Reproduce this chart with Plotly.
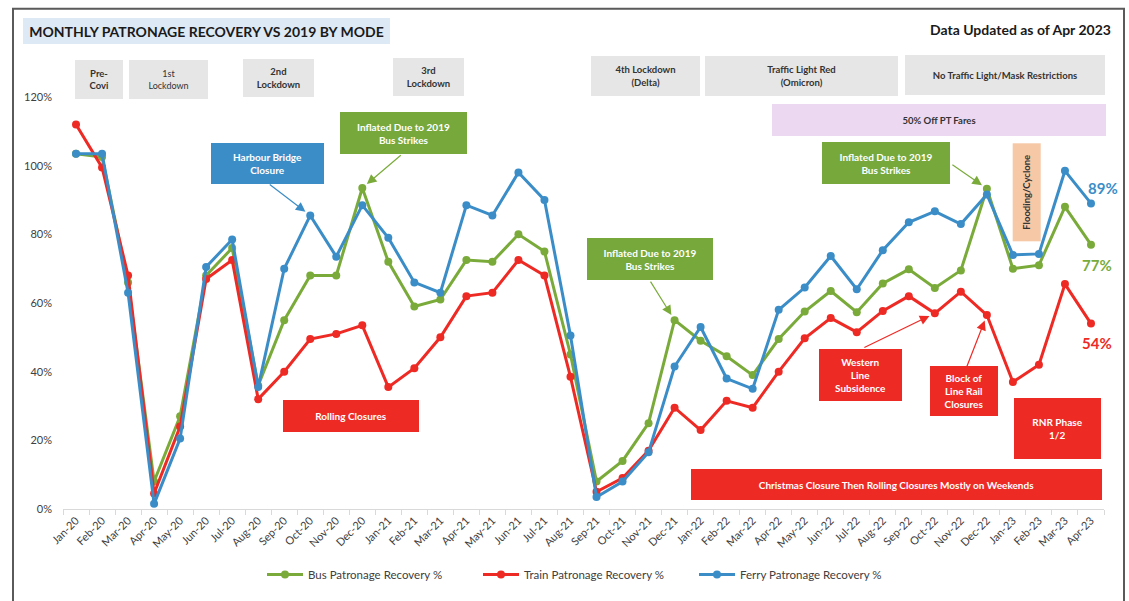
import plotly.graph_objects as go

# Monthly labels, Jan-20 .. Apr-23
months = [
    "Jan-20", "Feb-20", "Mar-20", "Apr-20", "May-20", "Jun-20", "Jul-20", "Aug-20",
    "Sep-20", "Oct-20", "Nov-20", "Dec-20", "Jan-21", "Feb-21", "Mar-21", "Apr-21",
    "May-21", "Jun-21", "Jul-21", "Aug-21", "Sep-21", "Oct-21", "Nov-21", "Dec-21",
    "Jan-22", "Feb-22", "Mar-22", "Apr-22", "May-22", "Jun-22", "Jul-22", "Aug-22",
    "Sep-22", "Oct-22", "Nov-22", "Dec-22", "Jan-23", "Feb-23", "Mar-23", "Apr-23",
]

# Patronage recovery vs same month of 2019 (fraction)
bus = [
    1.035, 1.025, 0.66, 0.08, 0.27, 0.68, 0.76, 0.36, 0.55, 0.68, 0.68, 0.935,
    0.72, 0.59, 0.61, 0.725, 0.72, 0.80, 0.75, 0.45, 0.08, 0.14, 0.25, 0.55,
    0.49, 0.445, 0.39, 0.495, 0.575, 0.635, 0.573, 0.657, 0.698, 0.644, 0.695, 0.933,
    0.70, 0.71, 0.88, 0.77,
]
train = [
    1.12, 0.995, 0.68, 0.045, 0.24, 0.67, 0.725, 0.32, 0.40, 0.495, 0.51, 0.535,
    0.355, 0.41, 0.50, 0.62, 0.63, 0.725, 0.68, 0.385, 0.05, 0.09, 0.17, 0.295,
    0.23, 0.315, 0.295, 0.40, 0.497, 0.556, 0.515, 0.577, 0.62, 0.57, 0.633, 0.565,
    0.37, 0.42, 0.655, 0.54,
]
ferry = [
    1.035, 1.035, 0.63, 0.015, 0.205, 0.705, 0.785, 0.355, 0.70, 0.855, 0.735, 0.885,
    0.79, 0.66, 0.63, 0.885, 0.855, 0.98, 0.90, 0.505, 0.035, 0.08, 0.165, 0.415,
    0.53, 0.38, 0.35, 0.58, 0.645, 0.737, 0.64, 0.754, 0.835, 0.867, 0.83, 0.916,
    0.74, 0.743, 0.985, 0.89,
]

series_names = ["Bus Patronage Recovery %", "Train Patronage Recovery %", "Ferry Patronage Recovery %"]
series_colors = ["#7aab3a", "#ee2a25", "#3b8dc8"]

FONT = "Lato"
W, H = 1129, 601
L, R, T, B = 63, 1104, 97, 512


def px(x):
    return (x - L) / (R - L)


def py(y):
    return (B - y) / (B - T)


fig = go.Figure()
for name, vals, col in zip(series_names, [bus, train, ferry], series_colors):
    fig.add_trace(go.Scatter(
        x=months, y=vals, name=name, mode="lines+markers",
        line=dict(color=col, width=3),
        marker=dict(color=col, size=8),
        cliponaxis=False,
    ))

annotations = []
shapes = []


def box(text, x0, y0, x1, y1, bg, fc="white", size=10, bold=True, angle=0):
    w, h = x1 - x0, y1 - y0
    if angle:
        w, h = h, w
    annotations.append(dict(
        xref="paper", yref="paper", x=px((x0 + x1) / 2), y=py((y0 + y1) / 2),
        xanchor="center", yanchor="middle", showarrow=False,
        text=f"<b>{text}</b>" if bold else text,
        font=dict(family=FONT, size=size, color=fc),
        bgcolor=bg, width=w, height=h, borderpad=0, borderwidth=0,
        align="center", valign="middle", textangle=angle,
    ))


def arrow(xcat, yval, ax, ay, col):
    annotations.append(dict(
        xref="x", yref="y", x=xcat, y=yval, ax=ax, ay=ay, text="",
        showarrow=True, arrowhead=2, arrowsize=1.6, arrowwidth=1.2,
        arrowcolor=col, standoff=6,
    ))


# Header
box("MONTHLY PATRONAGE RECOVERY VS 2019 BY MODE", 23, 18, 390, 44, "#dde9f5",
    fc="#1a1a1a", size=14)
annotations.append(dict(
    xref="paper", yref="paper", x=px(1113), y=py(29), xanchor="right", yanchor="middle",
    showarrow=False, text="<b>Data Updated as of Apr 2023</b>",
    font=dict(family=FONT, size=14, color="#1a1a1a"),
))

# Restriction phases along the top
grey = "#e6e6e6"
box("Pre-<br>Covi", 75, 60, 123, 99, grey, fc="#333333", size=9.5)
box("1st<br>Lockdown", 129, 60, 208, 99, grey, fc="#333333", size=9, bold=False)
box("2nd<br>Lockdown", 243, 59, 314, 97, grey, fc="#333333", size=9.5)
box("3rd<br>Lockdown", 393, 58, 464, 96, grey, fc="#333333", size=9.5)
box("4th Lockdown<br>(Delta)", 591, 56, 700, 96, grey, fc="#333333", size=9.5)
box("Traffic Light Red<br>(Omicron)", 705, 56, 898, 96, grey, fc="#333333", size=9.5)
box("No Traffic Light/Mask Restrictions", 905, 55, 1105, 95, grey, fc="#333333", size=9.5)
box("50% Off PT Fares", 772, 104, 1106, 136, "#ecd9f1", fc="#333333", size=9.5)
box("Flooding/Cyclone", 1013, 144, 1041, 242, "#f7c8a6", fc="#333333", size=9.5, angle=-90)

# Event call-outs
blue, green, red = series_colors[2], series_colors[0], series_colors[1]
box("Harbour Bridge<br>Closure", 211, 143, 324, 184, "#3b8dc8", size=10)
arrow("Oct-20", ferry[9], -42, -32, blue)

box("Inflated Due to 2019<br>Bus Strikes", 340, 112, 467, 154, "#77a83c", size=10)
arrow("Dec-20", bus[11], 40, -34, green)

box("Inflated Due to 2019<br>Bus Strikes", 587, 239, 713, 281, "#77a83c", size=10)
arrow("Dec-21", bus[23], -25, -40, green)

box("Inflated Due to 2019<br>Bus Strikes", 822, 142, 950, 184, "#77a83c", size=10)
arrow("Dec-22", bus[35], -36, -25, green)

box("Rolling Closures", 283, 402, 419, 434, "#ee2a25", size=10)
box("Western<br>Line<br>Subsidence", 819, 351, 902, 403, "#ee2a25", size=10)
arrow("Oct-22", train[33], -72, 35, red)
box("Block of<br>Line Rail<br>Closures", 930, 368, 998, 418, "#ee2a25", size=10)
arrow("Dec-22", train[35], -21, 54, red)
box("RNR Phase<br>1/2", 1014, 400, 1101, 461, "#ee2a25", size=10)
box("Christmas Closure Then Rolling Closures Mostly on Weekends", 691, 472, 1102, 503,
    "#ee2a25", size=10)

# Latest-month value labels
for vals, col, dx, dy in [(ferry, blue, 12, 15), (bus, green, 6, -20), (train, red, 6, -19)]:
    annotations.append(dict(
        xref="x", yref="y", x=months[-1], y=vals[-1], xshift=dx, yshift=dy,
        showarrow=False, text=f"<b>{vals[-1]:.0%}</b>",
        font=dict(family=FONT, size=15, color=col),
    ))

# Outer frame
shapes.append(dict(
    type="rect", xref="paper", yref="paper",
    x0=px(13), x1=px(1124), y0=py(640), y1=py(8),
    line=dict(color="#5a5a5a", width=2), fillcolor="rgba(0,0,0,0)",
))

fig.update_layout(
    width=W, height=H,
    margin=dict(l=L, r=W - R, t=T, b=H - B),
    paper_bgcolor="white", plot_bgcolor="white",
    font=dict(family=FONT, color="#404040"),
    showlegend=True,
    legend=dict(
        orientation="h", x=px(262), y=py(578), xanchor="left", yanchor="middle",
        font=dict(family=FONT, size=11.5, color="#404040"),
        itemwidth=36, entrywidth=165, entrywidthmode="pixels",
    ),
    annotations=annotations,
    shapes=shapes,
    xaxis=dict(
        type="category", showgrid=False, zeroline=False,
        showline=True, linecolor="#d9d9d9", linewidth=1,
        ticks="outside", tickson="boundaries", ticklen=5, tickcolor="#d9d9d9",
        tickangle=-45, tickfont=dict(family=FONT, size=11, color="#404040"),
        range=[-0.5, len(months) - 0.5],
    ),
    yaxis=dict(
        range=[0, 1.2], dtick=0.2, tickformat=".0%", showgrid=False, zeroline=False,
        showline=False, ticks="", tickfont=dict(family=FONT, size=11, color="#404040"),
        ticklabelstandoff=10,
    ),
)

fig.write_html("out.html")
